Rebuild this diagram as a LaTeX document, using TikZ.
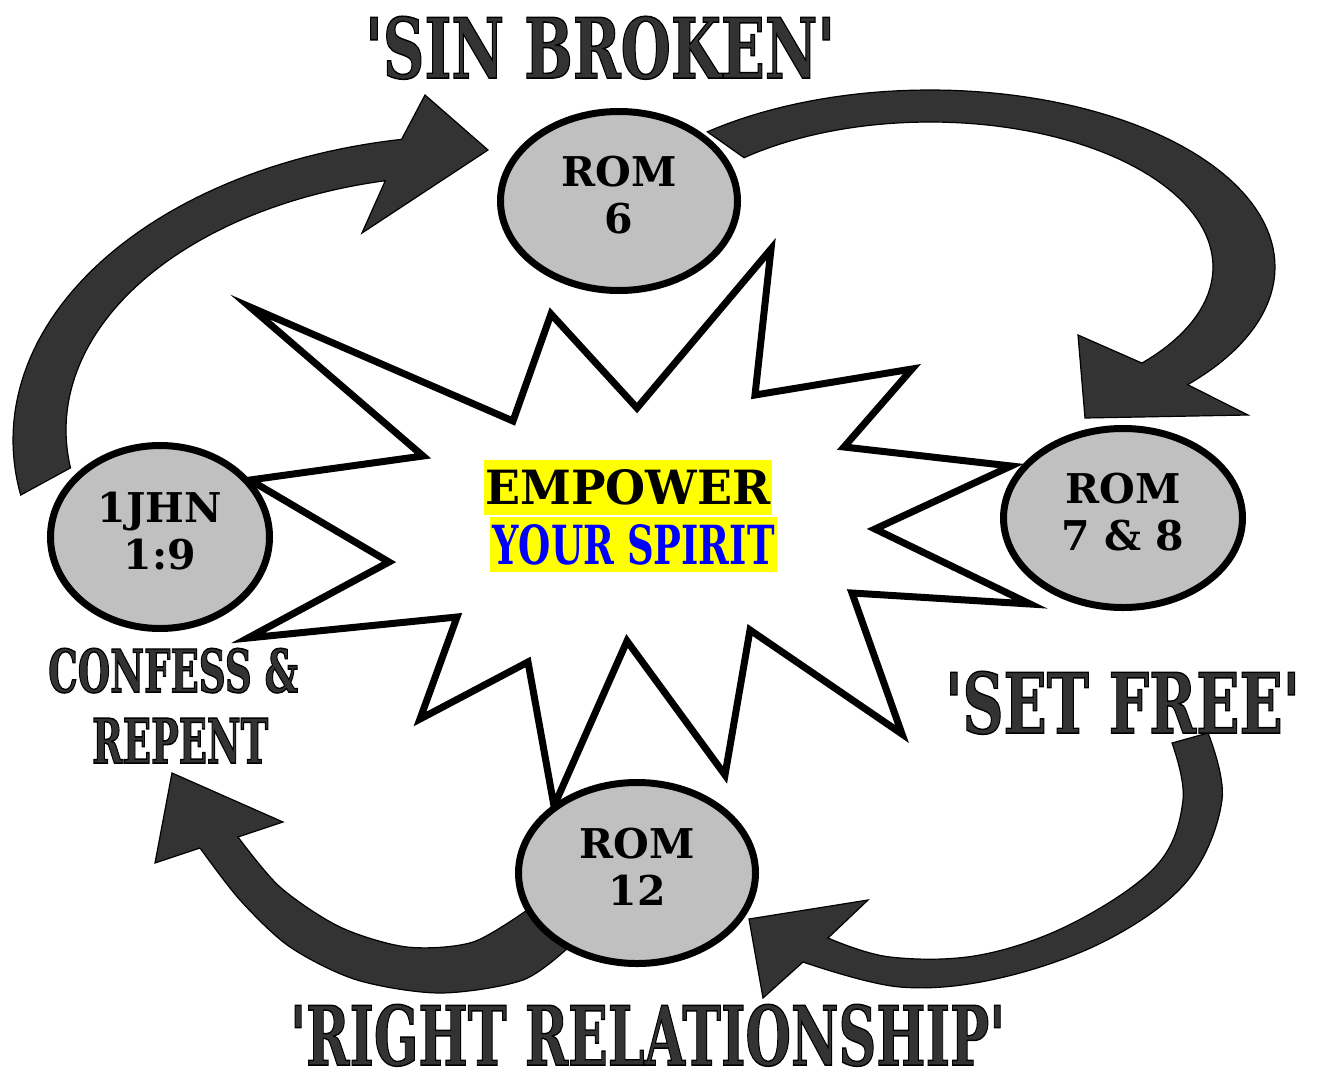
\documentclass[tikz,border=0pt]{standalone}
\usepackage{fontspec}
\setmainfont{DejaVu Serif}
\newfontfamily\lblfont{DejaVu Serif}
\usetikzlibrary{shapes.geometric}
\definecolor{arrowgray}{HTML}{333333}
\definecolor{ellgray}{HTML}{C0C0C0}
\definecolor{hiyellow}{HTML}{FFFF00}
\definecolor{spiritblue}{HTML}{0000FF}
\newcommand{\outlinetext}[1]{\special{pdf:literal direct 2 Tr 0 0 0 RG 1.5 w}#1\special{pdf:literal direct 0 Tr}}
\begin{document}
\begin{tikzpicture}[x=1pt,y=-1pt,
  arrowshape/.style={fill=arrowgray,draw=black,line width=1.2pt,line join=miter},
  starshape/.style={fill=white,draw=black,line width=7pt,line join=miter},
  ellnode/.style={ellipse,draw=black,fill=ellgray,line width=7pt,inner sep=0pt},
  elltext/.style={font=\fontsize{41}{47}\selectfont\bfseries,align=center,inner sep=0pt},
  lbl/.style={anchor=north west,inner sep=0pt,text=arrowgray},
  hibox/.style={fill=hiyellow,inner sep=0pt,minimum height=55pt}
]
\useasboundingbox (0,0) rectangle (1321,1073);

% arrow 1: 1JHN -> ROM 6
\filldraw[arrowshape]
  plot[domain=0:1,samples=60,variable=\t] ({480+467*cos(169.6+90.8*\t)},{440+305*sin(169.6+90.8*\t)})
  -- (425,95) -- (488,150) -- (362,233)
  -- plot[domain=0:1,samples=60,variable=\t] ({470+404*cos(257.9-86.5*\t)},{430+255*sin(257.9-86.5*\t)})
  -- cycle;

% arrow 2: ROM 6 -> ROM 7&8
\filldraw[arrowshape]
  plot[domain=0:1,samples=80,variable=\t] ({930+345*cos(229.8+172*\t)},{267+177*sin(229.8+172*\t)})
  -- (1248,415) -- (1085,418) -- (1078,335)
  -- plot[domain=0:1,samples=80,variable=\t] ({930+283*cos(401.5-172.7*\t)},{267+145*sin(401.5-172.7*\t)})
  -- cycle;

% arrow 3: SET FREE -> ROM 12
\filldraw[arrowshape] plot[smooth,tension=0.6] coordinates {(1208,733) (1222,800) (1188,880) (1107,940) (1000,978) (900,987) (803,962)}
  -- (763,998) -- (749,919) -- (868,900)
  -- plot[smooth,tension=0.6] coordinates {(828,938) (890,957) (980,955) (1073,923) (1157,865) (1183,800) (1172,743)} -- cycle;

% arrow 4: ROM 12 -> CONFESS
\filldraw[arrowshape] plot[smooth] coordinates {(570,946) (523,980) (440,993) (357,980) (290,947) (240,900) (200,848)}
  -- (155,863) -- (172,773) -- (283,822)
  -- plot[smooth] coordinates {(238,837) (280,887) (340,927) (407,947) (473,942) (530,908)} -- cycle;

% starburst
\filldraw[starshape] (250,307) -- (423,456) -- (250,480) -- (389,562) -- (248,638) -- (457,617)
  -- (420,719) -- (528,662) -- (554,806) -- (627,641) -- (725,775) -- (750,630)
  -- (902,734) -- (852,593) -- (1030,604) -- (875,529) -- (1011,466) -- (844,447)
  -- (912,369) -- (755,395) -- (771,249) -- (637,408) -- (551,314) -- (513,421) -- cycle;

% ellipses
\node[ellnode,minimum width=237pt,minimum height=179pt] (r6) at (619,201) {};
\node[ellnode,minimum width=239pt,minimum height=179pt] (r78) at (1123,518) {};
\node[ellnode,minimum width=219pt,minimum height=183pt] (j19) at (160,537) {};
\node[ellnode,minimum width=237pt,minimum height=181pt] (r12) at (637,873) {};

\node[elltext] (r6t) at ([yshift=6pt]r6.center) {ROM\\6};
\node[elltext] (r78t) at ([yshift=6pt]r78.center) {ROM\\7 \& 8};
\node[elltext] (j19t) at ([yshift=6pt]j19.center) {1JHN\\1:9};
\node[elltext] (r12t) at ([yshift=6pt]r12.center) {ROM\\12};

% centre text
\node[hibox,minimum width=288pt] (emp) at (628,487.5) {\resizebox{285pt}{35pt}{\bfseries EMPOWER}};
\node[hibox,minimum width=287pt] (ysp) at (633.5,544.5) {\textcolor{spiritblue}{\resizebox{282pt}{40pt}{\bfseries YOUR SPIRIT}}};

% labels
\node[lbl,font=\lblfont\bfseries\fontsize{86}{86}\selectfont] (sin) at (365,16) {\resizebox{470pt}{62pt}{\outlinetext{'SIN BROKEN'}}};
\node[lbl,font=\lblfont\bfseries\fontsize{86}{86}\selectfont] (free) at (945,671) {\resizebox{355pt}{62pt}{\outlinetext{'SET FREE'}}};
\node[lbl,font=\lblfont\bfseries\fontsize{86}{86}\selectfont] (right) at (290,1004) {\resizebox{715pt}{61pt}{\outlinetext{'RIGHT RELATIONSHIP'}}};
\node[lbl,font=\lblfont\bfseries\fontsize{61}{61}\selectfont] (conf) at (48,648) {\resizebox{250pt}{44pt}{\outlinetext{CONFESS \&}}};
\node[lbl,font=\lblfont\bfseries\fontsize{62}{62}\selectfont] (rep) at (92,718) {\resizebox{176pt}{45pt}{\outlinetext{REPENT}}};
\end{tikzpicture}
\end{document}
